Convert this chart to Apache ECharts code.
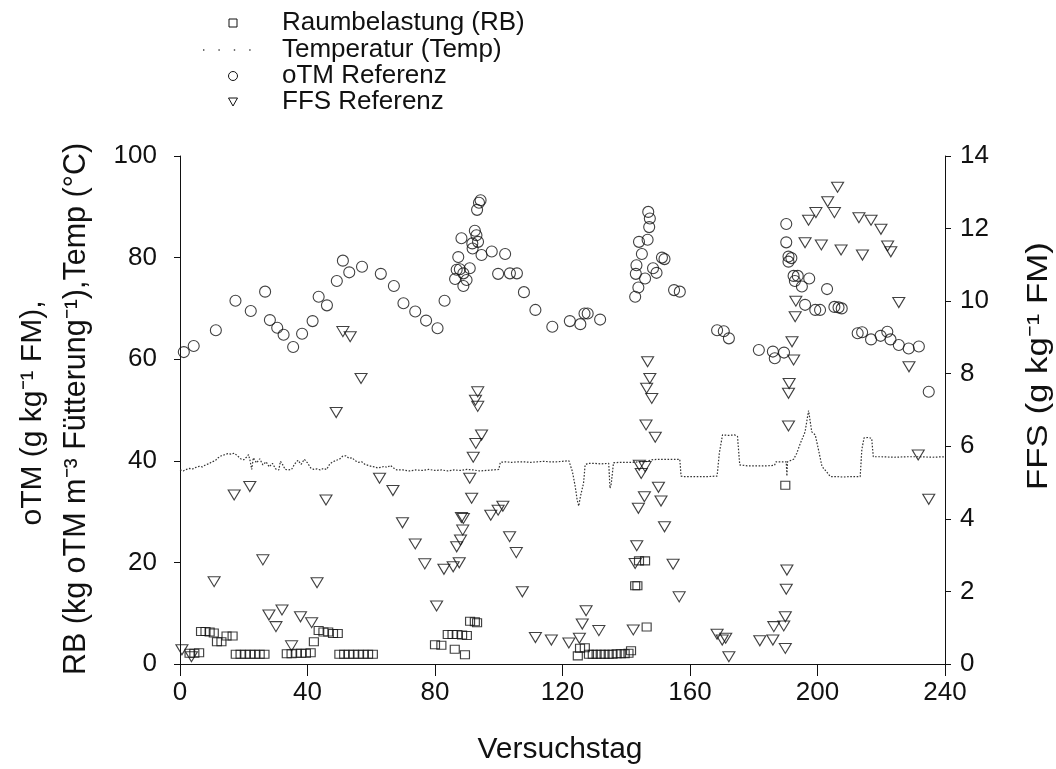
<!DOCTYPE html>
<html>
<head>
<meta charset="utf-8">
<script src="https://cdn.jsdelivr.net/npm/echarts@6/dist/echarts.min.js"></script>
<style>
html,body{margin:0;padding:0;background:#fff;}
#chart{width:1056px;height:769px;}
</style>
</head>
<body>
<div id="chart"></div>
<script>
// ---- data (day, value) ----
const xTicks = [0, 40, 80, 120, 160, 200, 240];
const leftTicks = [0, 20, 40, 60, 80, 100];
const rightTicks = [0, 2, 4, 6, 8, 10, 12, 14];

const rbPoints = [[3,2.1],[4.5,2.1],[6,2.2],[6.6,6.4],[8,6.4],[9.3,6.3],[10.6,6.1],[11.6,4.4],[13,4.4],[14.6,5.5],[16.5,5.5],
 [17.5,1.9],[19,1.9],[20.5,1.9],[22,1.9],[23.5,1.9],[25,1.9],[26.5,1.9],[33.5,2.0],[35,2.0],[36.5,2.1],[38,2.1],[39.5,2.1],[41,2.2],
 [42,4.4],[43.5,6.6],[45,6.3],[46.5,6.3],[48,6.0],[49.5,6.0],[50,1.9],[51.5,1.9],[53,1.9],[54.5,1.9],[56,1.9],[57.5,1.9],[59,1.9],[60.5,1.9],
 [80,3.8],[82,3.7],[84,5.8],[85.5,5.8],[87,5.8],[88.5,5.7],[90,5.6],[86.2,2.9],[89.4,1.8],[91,8.4],[92.5,8.3],[93.2,8.1],
 [124.8,1.6],[125.5,3.1],[127,3.2],[128.3,1.9],[129.5,1.9],[130.7,1.9],[132,1.9],[133.2,1.9],[134.5,1.9],[135.7,1.9],[137,2.0],[138.3,2.0],
 [139.5,2.0],[140.7,2.1],[141.5,2.6],[142.8,15.4],[143.5,15.4],[144,20.3],[145.9,20.3],[146.4,7.3],[189.9,35.2]];

const tempPoints = [[0,38.2],[1,38.0],[2,38.3],[3,38.5],[4,38.4],[5,38.7],[6,38.9],[7,38.8],[8,39.2],[9,39.4],[10,39.8],[11,40.0],[12,40.6],
 [13,41.0],[14,41.2],[15,41.4],[16,41.3],[17,41.5],[18,41.0],[19,40.4],[20,40.2],[21,40.8],[21.5,41.2],[22,40.0],[22.5,38.3],[23,40.6],
 [24,39.6],[25,40.4],[26,39.2],[27,39.8],[28,38.8],[29,39.5],[30,38.4],[31,38.2],[31.5,39.9],[32,39.5],[33,38.3],[34,38.2],[35,38.3],
 [36,39.4],[37,40.1],[38,39.3],[39,40.3],[40,39.6],[41,38.6],[42,38.3],[43,38.4],[44,38.2],[45,38.5],[46,38.3],[47,39.4],[48,39.8],
 [49,40.1],[50,40.3],[51,40.9],[52,41.0],[53,40.5],[54,40.6],[55,40.0],[56,39.7],[57,39.8],[58,39.3],[59,39.1],[60,38.9],[61,38.8],
 [62,38.6],[63,38.7],[64,38.9],[65,38.7],[66,39.1],[67,38.6],[68,38.2],[70,38.2],[72,38.0],[74,38.2],[76,38.1],[78,38.3],[80,38.1],
 [82,38.2],[84,38.0],[86,38.2],[88,38.1],[90,38.3],[92,38.2],[94,38.0],[96,38.1],[98,38.2],[100,38.3],[100.5,39.7],[102,39.8],[104,39.7],
 [106,39.8],[108,39.8],[110,39.7],[112,39.8],[114,39.9],[116,39.8],[118,39.8],[120,39.9],[122,40.0],[122.6,39.8],[123.1,37.9],[124,34.9],
 [124.6,32.3],[125.1,31.1],[125.6,32.9],[126.6,35.6],[127.1,39.2],[128,39.5],[130,39.5],[132,39.4],[134.5,39.5],[134.9,34.6],[135.3,35.5],
 [136,39.6],[138,39.7],[140,39.7],[142,39.7],[144,39.8],[146,39.8],[148,40.2],[150,40.3],[152,40.3],[154,40.3],[156.8,40.3],[157.2,37.0],
 [158,36.9],[160,36.9],[162,36.9],[164,36.9],[166,36.9],[168.5,37.0],[169.2,41.5],[170.2,45.1],[172,45.0],[174,45.1],[174.9,44.8],
 [175.6,39.2],[178,39.0],[180,39.0],[182,39.0],[184,39.0],[186.5,39.1],[187,39.8],[189,39.8],[190.2,39.8],[190.4,37.0],[190.6,39.8],
 [192.5,40.3],[193.5,41.5],[194.6,43.4],[196.1,45.7],[197.2,49.9],[198.2,45.7],[199.3,45.1],[200.3,42.2],[201.4,38.9],[203,37.7],
 [204,36.9],[206,36.9],[208,36.8],[210,36.9],[212,36.9],[213.4,36.9],[213.9,42.2],[214.6,44.5],[216,44.6],[217,44.4],[217.5,40.8],
 [220,40.8],[224,40.7],[228,40.8],[232,40.8],[236,40.7],[240,40.8]];

const otmPoints = [[1.2,61.4],[4.3,62.6],[11.25,65.7],[17.4,71.5],[22.2,69.5],[26.7,73.3],[28.2,67.7],[30.5,66.2],[32.5,64.8],[35.5,62.4],
 [38.3,65],[41.6,67.5],[43.5,72.3],[46.1,70.6],[49.2,75.4],[51.1,79.4],[53.1,77.1],[57.1,78.2],[63,76.8],[67.1,74.4],[70.1,71],[73.8,69.4],
 [77.2,67.6],[80.8,66.1],[83,71.5],[86.3,75.8],[86.8,77.6],[87.3,80.1],[87.8,77.7],[88.3,83.8],[88.9,74.4],[88.9,76.9],[89.9,75.6],[90.9,77.9],
 [91.7,82.8],[91.8,81.8],[92.5,85.3],[93,84.4],[93.5,83.1],[93.2,89.4],[93.8,90.8],[94.3,91.3],[94.6,80.5],[97.8,81.2],[99.8,76.8],
 [102,80.7],[103.5,76.9],[105.7,76.9],[107.9,73.2],[111.5,69.7],[116.8,66.4],[122.3,67.5],[125.6,66.9],[126.9,69],[127.9,69],[131.8,67.8],
 [142.8,72.3],[143.8,74.1],[143,76.8],[143.2,78.5],[144.9,80.7],[144,83.1],[146.7,83.5],[145.9,75.9],[147.2,86],[147.4,87.7],[146.9,89],
 [148.4,77.9],[149.5,77],[151.2,80],[152,79.7],[155,73.6],[156.8,73.3],[168.5,65.7],[170.6,65.5],[172.2,64.1],[181.6,61.8],[186,61.5],
 [186.6,60.2],[189.5,61.3],[190.2,86.6],[190.2,83],[190.9,80.2],[190.9,79.2],[191.8,79.9],[192.5,76.4],[193.8,76.4],[192.9,75.4],
 [195.1,74.3],[197.4,75.9],[196.1,70.7],[199.3,69.7],[200.8,69.7],[203,73.8],[205.3,70.3],[206.6,70.2],[207.6,70],[212.6,65.1],[214,65.3],
 [216.8,63.9],[219.8,64.6],[221.9,65.4],[222.9,63.9],[225.5,62.8],[228.6,62.1],[231.8,62.5],[234.9,53.6]];

const ffsPoints = [[0.6,0.39],[3.6,0.2],[10.7,2.27],[17,4.66],[21.9,4.89],[26,2.87],[27.9,1.35],[30.1,1.03],[32,1.49],[35,0.5],[37.8,1.3],
 [41.3,1.14],[43,2.24],[45.8,4.52],[49,6.93],[51.1,9.16],[53.4,9.02],[56.8,7.87],[62.6,5.12],[66.8,4.78],[69.8,3.89],[73.8,3.31],
 [76.8,2.76],[80.5,1.6],[82.8,2.61],[85.7,2.68],[86.8,3.23],[87.6,2.79],[88,3.42],[88.7,3.69],[88.3,4.04],[88.9,4.01],[90.9,5.12],
 [91.5,4.57],[92,5.7],[92.8,6.08],[94.6,6.31],[93.4,7.1],[92.7,7.27],[93.4,7.5],[97.5,4.1],[99.8,4.24],[101.3,4.35],[103.4,3.51],
 [105.5,3.07],[107.4,1.99],[111.5,0.73],[116.5,0.66],[122,0.58],[125.3,0.71],[126.2,1.1],[127.4,1.47],[131.4,0.92],[142.2,0.94],
 [142.8,2.77],[143.3,3.26],[143.8,4.29],[145.7,4.61],[144.7,5.25],[144.1,5.48],[145.9,5.44],[146.2,6.59],[149.1,6.25],[148,7.32],
 [146.4,7.6],[147.4,7.87],[146.7,8.33],[150.1,4.87],[150.9,4.49],[152,3.78],[154.7,2.75],[156.6,1.85],[168.5,0.82],[170.1,0.66],
 [171.2,0.71],[172.2,0.2],[181.9,0.64],[186,0.66],[186.3,1.03],[189.4,1.05],[189.9,1.3],[189.9,0.43],[190.2,2.06],[190.4,2.59],
 [190.9,6.56],[190.9,7.46],[191.1,7.73],[192.5,8.38],[192,8.88],[193,9.57],[193.2,10.0],[196.1,11.61],[197.2,12.23],[199.5,12.44],
 [201.2,11.55],[203.2,12.74],[205.3,12.44],[206.3,13.14],[207.4,11.41],[213,12.3],[214.1,11.27],[216.8,12.23],[219.9,11.98],[222,11.52],
 [223,11.36],[225.5,9.96],[228.7,8.19],[231.6,5.76],[234.9,4.54]];

const legendNames = ['Raumbelastung (RB)', 'Temperatur (Temp)', 'oTM Referenz', 'FFS Referenz'];

// ---- chart ----
const FONT = '"Liberation Sans", Arial, Helvetica, sans-serif';
const chart = echarts.init(document.getElementById('chart'), null, {renderer: 'canvas'});
const ink = '#111';
const hollow = 'rgba(0,0,0,0)';

function axisCommon(ticks) {
  return {
    min: ticks[0], max: ticks[ticks.length - 1], interval: ticks[1] - ticks[0],
    splitLine: {show: false},
    axisLine: {show: true, onZero: false, lineStyle: {color: ink, width: 1}},
    axisTick: {show: true, inside: false, lineStyle: {color: ink, width: 1}},
    axisLabel: {color: ink, fontFamily: FONT, fontSize: 26}
  };
}

const xAx = axisCommon(xTicks);
xAx.type = 'value';
xAx.axisTick.length = 12;
xAx.axisLabel.margin = 16;

const yL = axisCommon(leftTicks);
yL.type = 'value'; yL.position = 'left';
yL.axisTick.length = 6;
yL.axisLabel.margin = 23;

const yR = axisCommon(rightTicks);
yR.type = 'value'; yR.position = 'right';
yR.axisTick.length = 6;
yR.axisLabel.margin = 15;
yR.axisLabel.align = 'left';

const legendY = [23, 50, 76, 102];
const legendGraphics = [
  {type: 'rect', shape: {x: 229, y: legendY[0] - 4, width: 8, height: 8}, style: {fill: hollow, stroke: ink, lineWidth: 1}},
  {type: 'line', shape: {x1: 203, y1: legendY[1], x2: 258, y2: legendY[1]}, style: {stroke: '#444', lineWidth: 1.4, lineDash: [1.4, 14]}},
  {type: 'circle', shape: {cx: 233, cy: legendY[2], r: 4.5}, style: {fill: hollow, stroke: ink, lineWidth: 1}},
  {type: 'polygon', shape: {points: [[228.5, legendY[3] - 4], [237.5, legendY[3] - 4], [233, legendY[3] + 4]]}, style: {fill: hollow, stroke: ink, lineWidth: 1}}
];
legendNames.forEach((n, i) => {
  legendGraphics.push({type: 'text', x: 282, y: legendY[i], style: {text: n, font: '26px ' + FONT, fill: ink, textAlign: 'left', textVerticalAlign: 'middle'}});
});

const titleGraphics = [
  {type: 'text', x: 33, y: 413, rotation: Math.PI / 2,
   style: {text: 'oTM (g kg\u207B\u00B9 FM),', font: '30px ' + FONT, fill: ink, textAlign: 'center', textVerticalAlign: 'middle'}},
  {type: 'text', x: 77, y: 409, rotation: Math.PI / 2,
   style: {text: 'RB (kg oTM m\u207B\u00B3 F\u00FCtterung\u207B\u00B9),Temp (\u00B0C)', font: '30.5px ' + FONT, fill: ink, textAlign: 'center', textVerticalAlign: 'middle'}},
  {type: 'text', x: 1039, y: 366, rotation: Math.PI / 2, scaleX: 1.2,
   style: {text: 'FFS (g kg\u207B\u00B9 FM)', font: '29px ' + FONT, fill: ink, textAlign: 'center', textVerticalAlign: 'middle'}},
  {type: 'text', x: 560, y: 750,
   style: {text: 'Versuchstag', font: '30px ' + FONT, fill: ink, textAlign: 'center', textVerticalAlign: 'middle'}}
];

const option = {
  backgroundColor: '#fff',
  animation: false,
  grid: {left: 180, right: 111, top: 156, bottom: 105, containLabel: false},
  xAxis: xAx,
  yAxis: [yL, yR],
  series: [
    {name: legendNames[1], type: 'line', data: tempPoints, xAxisIndex: 0, yAxisIndex: 0,
     showSymbol: false, symbol: 'none', smooth: false, z: 1,
     lineStyle: {color: '#333', width: 1.2, type: [1.6, 1.6]}},
    {name: legendNames[0], type: 'scatter', data: rbPoints, yAxisIndex: 0, symbol: 'rect', symbolSize: [9, 8], z: 3,
     itemStyle: {color: hollow, borderColor: ink, borderWidth: 1.1}},
    {name: legendNames[2], type: 'scatter', data: otmPoints, yAxisIndex: 0, symbol: 'circle', symbolSize: 11, z: 3,
     itemStyle: {color: hollow, borderColor: ink, borderWidth: 1.1}},
    {name: legendNames[3], type: 'scatter', data: ffsPoints, yAxisIndex: 1, symbol: 'triangle', symbolRotate: 180, symbolSize: [12, 10], z: 3,
     itemStyle: {color: hollow, borderColor: ink, borderWidth: 1.1}}
  ],
  graphic: legendGraphics.concat(titleGraphics)
};
chart.setOption(option);
</script>
</body>
</html>
